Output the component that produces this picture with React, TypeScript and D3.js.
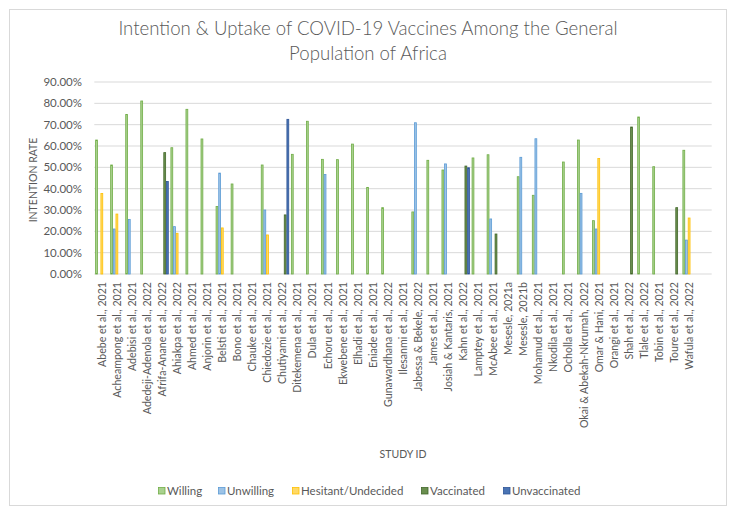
import React from "react";
import * as d3 from "d3";

const categories: string[] = [
  "Abebe et al., 2021",
  "Acheampong et al., 2021",
  "Adebisi et al., 2021",
  "Adedeji-Adenola et al., 2022",
  "Afrifa-Anane et al., 2022",
  "Ahiakpa et al., 2022",
  "Ahmed et al., 2021",
  "Anjorin et al., 2021",
  "Belsti et al., 2021",
  "Bono et al., 2021",
  "Chauke et al., 2021",
  "Chiedozie et al., 2021",
  "Chutiyami et al., 2022",
  "Ditekemena et al., 2021",
  "Dula et al., 2021",
  "Echoru et al., 2021",
  "Ekwebene et al., 2021",
  "Elhadi et al., 2021",
  "Eniade et al., 2021",
  "Gunawardhana et al., 2022",
  "Ilesanmi et al., 2021",
  "Jabessa & Bekele, 2022",
  "James et al., 2021",
  "Josiah & Kantaris, 2021",
  "Kahn et al., 2022",
  "Lamptey et al., 2021",
  "McAbee et al., 2021",
  "Mesesle, 2021a",
  "Mesesle, 2021b",
  "Mohamud et al., 2021",
  "Nkodila et al., 2021",
  "Ocholla et al., 2021",
  "Okai & Abekah-Nkrumah, 2022",
  "Omar & Hani, 2021",
  "Orangi et al., 2021",
  "Shah et al., 2022",
  "Tlale et al., 2022",
  "Tobin et al., 2021",
  "Toure et al., 2022",
  "Wafula et al., 2022",
  "",
];

const N = null;
const willing: (number | null)[] = [
  62.8, 51.1, 74.8, 81.1, N, 59.2, 77.2, 63.3, 31.6, 42.2, N, 51.1, N, 56.1, 71.6, 53.75,
  53.6, 60.9, 40.6, 31.1, N, 29.1, 53.3, 48.75, N, 54.4, 55.9, N, 45.6, 36.9, N, 52.5,
  62.8, 25.0, N, N, 73.6, 50.3, N, 58.0, N,
];
const unwilling: (number | null)[] = [
  N, 21.1, 25.6, N, N, 22.2, N, N, 47.3, N, N, 30.0, N, N, N, 46.6,
  N, N, N, N, N, 70.9, N, 51.6, N, N, 25.8, N, 54.7, 63.4, N, N,
  37.8, 21.1, N, N, N, N, N, 15.9, N,
];
const hesitant: (number | null)[] = [
  37.7, 28.1, N, N, N, 19.1, N, N, 21.6, N, N, 18.3, N, N, N, N,
  N, N, N, N, N, N, N, N, N, N, N, N, N, N, N, N,
  N, 54.1, N, N, N, N, N, 26.25, N,
];
const vaccinated: (number | null)[] = [
  N, N, N, N, 56.9, N, N, N, N, N, N, N, 27.7, N, N, N,
  N, N, N, N, N, N, N, N, 50.6, N, 18.75, N, N, N, N, N,
  N, N, N, 68.9, N, N, 31.1, N, N,
];
const unvaccinated: (number | null)[] = [
  N, N, N, N, 43.4, N, N, N, N, N, N, N, 72.5, N, N, N,
  N, N, N, N, N, N, N, N, 49.8, N, N, N, N, N, N, N,
  N, N, N, N, N, N, N, N, N,
];

const seriesNames = ["Willing", "Unwilling", "Hesitant/Undecided", "Vaccinated", "Unvaccinated"];
const seriesData = [willing, unwilling, hesitant, vaccinated, unvaccinated];
const fills = ["#a9d18e", "#9dc3e6", "#ffd966", "#6a8f4f", "#4a74b4"];
const strokes = ["#70ad47", "#5b9bd5", "#ffc000", "#43682b", "#2f5597"];

const yTicks = [0, 10, 20, 30, 40, 50, 60, 70, 80, 90];

const W = 736;
const H = 514;
const plotL = 94.3;
const plotR = 711.7;
const plotT = 82;
const plotB = 274;
const FONT = "Lato, 'Open Sans', sans-serif";
const TXT = "#595959";

export default function App() {
  const y = d3.scaleLinear().domain([0, 90]).range([plotB, plotT]);
  const x0 = d3.scaleBand<string>().domain(categories.map((c, i) => i + "|" + c)).range([plotL, plotR]);
  const x1 = d3
    .scaleBand<string>()
    .domain(seriesNames)
    .range([0, x0.bandwidth()])
    .paddingInner(0)
    .paddingOuter(0.34);
  const fmt = (v: number) => v.toFixed(2) + "%";
  const legendX = [158, 218, 292, 421, 503];

  return (
    <svg
      width={W}
      height={H}
      style={{ position: "absolute", left: 0, top: 0, background: "#fff" }}
      fontFamily={FONT}
    >
      <rect x={9.5} y={9.5} width={717} height={496} fill="#fff" stroke="#d9d9d9" strokeWidth={1} />
      <text x={368} y={35} textAnchor="middle" fontSize={18.6} fill={TXT} fontWeight={300}>
        Intention &amp; Uptake of COVID-19 Vaccines Among the General
      </text>
      <text x={368} y={59.5} textAnchor="middle" fontSize={18.6} fill={TXT} fontWeight={300}>
        Population of Africa
      </text>

      {yTicks.map((t) => (
        <g key={t}>
          <line x1={plotL} x2={plotR} y1={y(t)} y2={y(t)} stroke="#d9d9d9" strokeWidth={1} />
          <text x={82} y={y(t) + 4} textAnchor="end" fontSize={11.5} fill={TXT}>
            {fmt(t)}
          </text>
        </g>
      ))}

      <text
        transform={`translate(37,180) rotate(-90)`}
        textAnchor="middle"
        fontSize={10.5}
        fill={TXT}
      >
        INTENTION RATE
      </text>

      {seriesData.map((arr, si) =>
        arr.map((v, ci) => {
          if (v == null) return null;
          const key = ci + "|" + categories[ci];
          const bx = (x0(key) as number) + (x1(seriesNames[si]) as number);
          const bw = x1.bandwidth();
          return (
            <rect
              key={si + "-" + ci}
              x={bx + 0.4}
              y={y(v)}
              width={Math.max(bw - 0.8, 0.5)}
              height={y(0) - y(v)}
              fill={fills[si]}
              stroke={strokes[si]}
              strokeWidth={0.8}
            />
          );
        })
      )}

      {categories.map((c, i) => {
        const key = i + "|" + c;
        const cx = (x0(key) as number) + x0.bandwidth() / 2;
        return (
          <text
            key={key}
            transform={`translate(${cx + 3.8},282) rotate(-90)`}
            textAnchor="end"
            fontSize={10.6}
            fill={TXT}
          >
            {c}
          </text>
        );
      })}

      <text x={(plotL + plotR) / 2} y={458} textAnchor="middle" fontSize={10.5} fill={TXT}>
        STUDY ID
      </text>

      {seriesNames.map((s, i) => (
        <g key={s}>
          <rect x={legendX[i] + 0.5} y={487.5} width={6.5} height={6.5} fill={fills[i]} stroke={strokes[i]} strokeWidth={0.8} />
          <text x={legendX[i] + 9} y={495} fontSize={11.5} fill={TXT}>
            {s}
          </text>
        </g>
      ))}
    </svg>
  );
}
